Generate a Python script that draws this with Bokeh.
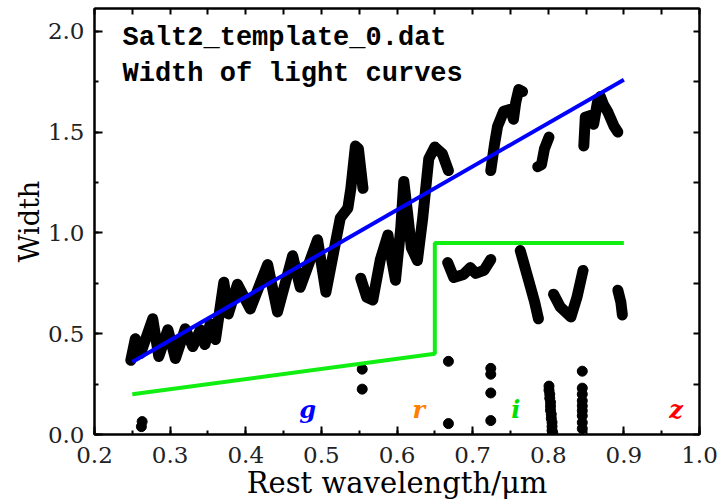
from bokeh.plotting import figure
from bokeh.models import LinearAxis, SingleIntervalTicker, PrintfTickFormatter, Range1d
from bokeh.core.properties import value
from bokeh.embed import file_html
from bokeh.resources import INLINE

# ---- data ----
seg_x = [
    [0.248, 0.254, 0.261, 0.277, 0.285, 0.297, 0.307, 0.320, 0.330, 0.340, 0.346, 0.353, 0.360,
     0.371, 0.377, 0.389, 0.406, 0.429, 0.442, 0.462, 0.472, 0.495, 0.506, 0.525, 0.535, 0.539,
     0.545, 0.549, 0.555],
    [0.552, 0.560, 0.568, 0.578, 0.588, 0.593, 0.598, 0.605, 0.609, 0.614, 0.619, 0.627, 0.634,
     0.642, 0.650, 0.660, 0.668],
    [0.667, 0.675, 0.688, 0.697, 0.704, 0.715, 0.724],
    [0.724, 0.729, 0.733, 0.741, 0.750, 0.754, 0.757, 0.761, 0.766],
    [0.786, 0.791, 0.795, 0.801],
    [0.847, 0.849, 0.856, 0.860, 0.865, 0.869, 0.873, 0.879, 0.887, 0.892],
    [0.763, 0.774, 0.782, 0.787],
    [0.807, 0.816, 0.830, 0.838, 0.846],
    [0.892, 0.896, 0.898],
]
seg_y = [
    [0.368, 0.475, 0.402, 0.574, 0.387, 0.520, 0.377, 0.525, 0.436, 0.520, 0.446, 0.549, 0.471,
     0.755, 0.598, 0.745, 0.623, 0.843, 0.608, 0.887, 0.730, 0.966, 0.706, 1.074, 1.123, 1.221,
     1.431, 1.417, 1.221],
    [0.775, 0.681, 0.667, 0.868, 0.990, 0.868, 0.765, 1.025, 1.255, 1.098, 0.926, 0.863, 1.074,
     1.368, 1.426, 1.392, 1.309],
    [0.853, 0.779, 0.794, 0.828, 0.799, 0.814, 0.868],
    [1.309, 1.441, 1.529, 1.603, 1.613, 1.564, 1.647, 1.711, 1.701],
    [1.328, 1.338, 1.417, 1.475],
    [1.431, 1.574, 1.583, 1.539, 1.647, 1.676, 1.637, 1.598, 1.529, 1.500],
    [0.912, 0.765, 0.657, 0.574],
    [0.696, 0.632, 0.583, 0.681, 0.814],
    [0.716, 0.657, 0.593],
]

dot_x = [0.263, 0.262, 0.554, 0.554, 0.668, 0.668,
         0.724, 0.724, 0.724, 0.724,
         0.801, 0.801, 0.802, 0.802, 0.803, 0.803, 0.803, 0.804, 0.804, 0.805, 0.805, 0.805, 0.806,
         0.845, 0.845, 0.845, 0.845, 0.845, 0.845, 0.845, 0.845, 0.845]
dot_y = [0.064, 0.039, 0.324, 0.225, 0.363, 0.054,
         0.328, 0.299, 0.206, 0.069,
         0.240, 0.220, 0.200, 0.180, 0.160, 0.140, 0.120, 0.100, 0.080, 0.060, 0.040, 0.020, 0.008,
         0.314, 0.230, 0.200, 0.167, 0.142, 0.118, 0.093, 0.059, 0.029]

fit_x = [0.25, 0.90]
fit_y = [0.36, 1.76]

limit_x = [0.25, 0.65, 0.65, 0.90]
limit_y = [0.20, 0.40, 0.95, 0.95]

band_names = ["g", "r", "i", "z"]
band_x = [0.482, 0.629, 0.757, 0.969]
band_y = [0.122, 0.122, 0.122, 0.122]
band_colors = ["#0000ff", "#ff7f00", "#00e000", "#ff0000"]

title_lines = ["Salt2_template_0.dat", "Width of light curves"]

# ---- figure ----
p = figure(width=719, height=502, x_range=Range1d(0.2, 1.0), y_range=Range1d(0.0, 2.113),
           output_backend="svg", toolbar_location=None,
           min_border_left=94, min_border_right=20, min_border_top=8, min_border_bottom=64)
p.grid.visible = False
p.outline_line_color = "black"
p.outline_line_width = 2
p.background_fill_color = "white"
p.border_fill_color = "white"

serif = "DejaVu Serif"
for ax, ticker in ((p.xaxis[0], SingleIntervalTicker(interval=0.1, num_minor_ticks=2)),
                   (p.yaxis[0], SingleIntervalTicker(interval=0.5, num_minor_ticks=2))):
    ax.ticker = ticker
    ax.formatter = PrintfTickFormatter(format="%.1f")
    ax.major_tick_in = 8
    ax.major_tick_out = 0
    ax.minor_tick_in = 4
    ax.minor_tick_out = 0
    ax.major_tick_line_width = 2
    ax.minor_tick_line_width = 2
    ax.axis_line_width = 2
    ax.major_label_text_font = serif
    ax.major_label_text_font_size = "23px"
    ax.major_label_text_color = "#222222"
    ax.axis_label_text_font = serif
    ax.axis_label_text_font_style = "normal"
    ax.axis_label_text_color = "black"

p.xaxis.axis_label = "Rest wavelength/μm"
p.yaxis.axis_label = "Width"
p.xaxis.axis_label_text_font_size = "29px"
p.yaxis.axis_label_text_font_size = "27px"
p.xaxis.major_label_standoff = 12
p.yaxis.major_label_standoff = 10
p.xaxis.axis_label_standoff = 0
p.yaxis.axis_label_standoff = 0

top = LinearAxis(ticker=SingleIntervalTicker(interval=0.05, num_minor_ticks=0),
                 major_tick_in=6, major_tick_out=0, minor_tick_in=0, minor_tick_out=0,
                 major_tick_line_width=2, axis_line_width=2,
                 major_label_text_color=None, major_label_text_font_size="4px",
                 major_label_standoff=0)
right = LinearAxis(ticker=SingleIntervalTicker(interval=0.25, num_minor_ticks=0),
                   major_tick_in=6, major_tick_out=0, minor_tick_in=0, minor_tick_out=0,
                   major_tick_line_width=2, axis_line_width=2,
                   major_label_text_color=None, major_label_text_font_size="4px",
                   major_label_standoff=0)
p.add_layout(top, "above")
p.add_layout(right, "right")

# data
p.multi_line(xs=seg_x, ys=seg_y, line_color="black", line_width=11,
             line_cap="round", line_join="round")
p.scatter(dot_x, dot_y, size=10, color="black")
p.line(limit_x, limit_y, line_color="#11ee11", line_width=4)
p.line(fit_x, fit_y, line_color="#0000ff", line_width=4)

p.text(x=[0.237, 0.237], y=[1.966, 1.789], text=title_lines,
       text_font=value("Liberation Mono"), text_font_style="bold",
       text_font_size="27px", text_baseline="alphabetic", text_color="black")

p.text(x=band_x, y=band_y, text=band_names, text_color=band_colors,
       text_font=value(serif), text_font_style="bold italic",
       text_font_size="24px", text_align="center", text_baseline="alphabetic")

open("out.html", "w").write(file_html(p, INLINE))
